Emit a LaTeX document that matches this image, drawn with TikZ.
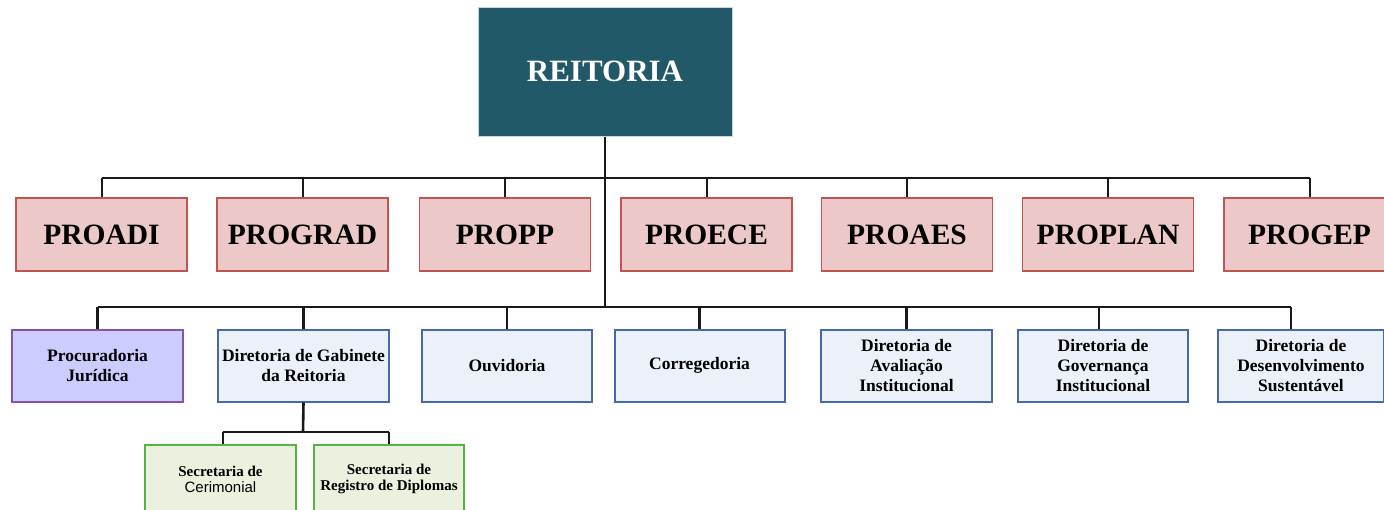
\documentclass[tikz,border=0pt]{standalone}
\usepackage{fontspec}
\setmainfont{Liberation Serif}
\newfontfamily\sansf{Liberation Sans}
\definecolor{reitfill}{RGB}{33,89,104}
\definecolor{reitdraw}{RGB}{200,215,220}
\definecolor{profill}{RGB}{236,200,200}
\definecolor{prodraw}{RGB}{190,85,80}
\definecolor{dirfill}{RGB}{236,240,248}
\definecolor{dirdraw}{RGB}{70,105,170}
\definecolor{procfill}{RGB}{204,204,255}
\definecolor{procdraw}{RGB}{130,85,165}
\definecolor{secfill}{RGB}{235,241,222}
\definecolor{secdraw}{RGB}{85,180,65}
\definecolor{linec}{RGB}{25,25,25}
\tikzset{
  topbox/.style={fill=reitfill,draw=reitdraw,line width=1pt,text=white,minimum width=254pt,minimum height=129pt,inner sep=0pt,font=\fontsize{31}{36}\selectfont\bfseries},
  probox/.style={fill=profill,draw=prodraw,line width=1.5pt,minimum width=171pt,minimum height=73pt,inner sep=0pt,font=\fontsize{29.5}{34}\selectfont\bfseries},
  dirbox/.style={fill=dirfill,draw=dirdraw,line width=2pt,minimum width=171pt,minimum height=72pt,inner sep=0pt,align=center,font=\fontsize{17.5}{19.8}\selectfont\bfseries},
  procbox/.style={dirbox,fill=procfill,draw=procdraw},
  secbox/.style={fill=secfill,draw=secdraw,line width=2pt,minimum width=151pt,minimum height=68pt,inner sep=0pt,align=center,font=\fontsize{15}{16}\selectfont\bfseries},
  conn1/.style={draw=linec,line width=2pt},
  conn2/.style={draw=linec,line width=2.6pt},
}
\begin{document}
\begin{tikzpicture}[x=1pt,y=-1pt]
\useasboundingbox (0,0) rectangle (1384,509);
\clip (0,0) rectangle (1384,509);
\fill[white] (0,0) rectangle (1384,509);
\coordinate (b1) at (605,178);
\coordinate (b2) at (605,307);
\coordinate (b3) at (303,432);
\node[topbox] (reit) at (605,71.5) {REITORIA};
\node[probox] (proadi) at (101.5,234.5) {PROADI};
\node[probox] (prograd) at (302.5,234.5) {PROGRAD};
\node[probox] (propp) at (505,234.5) {PROPP};
\node[probox] (proece) at (706.5,234.5) {PROECE};
\node[probox] (proaes) at (907,234.5) {PROAES};
\node[probox] (proplan) at (1108,234.5) {PROPLAN};
\node[probox] (progep) at (1309.5,234.5) {PROGEP};

\node[procbox] (proc) at (97.5,365.5) {Procuradoria\\Jurídica};
\node[dirbox] (gab) at (303.5,365.5) {Diretoria de Gabinete\\da Reitoria};
\node[dirbox,minimum width=170pt] (ouv) at (507,365.5) {Ouvidoria};
\node[dirbox,minimum width=170pt] (corr) at (699.5,365.5) {Corregedoria};
\node[dirbox] (aval) at (906.5,365.5) {Diretoria de\\Avaliação\\Institucional};
\node[dirbox,minimum width=170pt] (gov) at (1103,365.5) {Diretoria de\\Governança\\Institucional};
\node[dirbox,minimum width=166pt] (des) at (1301,365.5) {Diretoria de\\Desenvolvimento\\Sustentável};

\node[secbox] (sec1) at (220.5,479) {Secretaria de\\{\sansf\mdseries Cerimonial}};
\node[secbox,minimum width=150pt] (sec2) at (389,479) {Secretaria de\\Registro de Diplomas};

\draw[conn1] (reit.south) -- (b1);
\draw[conn2] (b1) -- (b2);
\draw[conn1] (proadi.north |- b1) -- (progep.north |- b1);
\foreach \n in {proadi,prograd,propp,proece,proaes,proplan,progep}
  \draw[conn1] (\n.north |- b1) -- (\n.north);
\draw[conn2] (proc.north |- b2) -- ([xshift=-10pt]des.north |- b2);
\foreach \n in {proc,gab,ouv,corr,aval}
  \draw[conn2] (\n.north |- b2) -- (\n.north);
\draw[conn2] ([xshift=-4pt]gov.north |- b2) -- ([xshift=-4pt]gov.north);
\draw[conn2] ([xshift=-10pt]des.north |- b2) -- ([xshift=-10pt]des.north);
\draw[conn2] (gab.south) -- (b3);
\draw[conn2] ([xshift=2.5pt]sec1.north |- b3) -- (sec2.north |- b3);
\draw[conn2] ([xshift=2.5pt]sec1.north |- b3) -- ([xshift=2.5pt]sec1.north);
\draw[conn2] (sec2.north |- b3) -- (sec2.north);
\end{tikzpicture}
\end{document}
